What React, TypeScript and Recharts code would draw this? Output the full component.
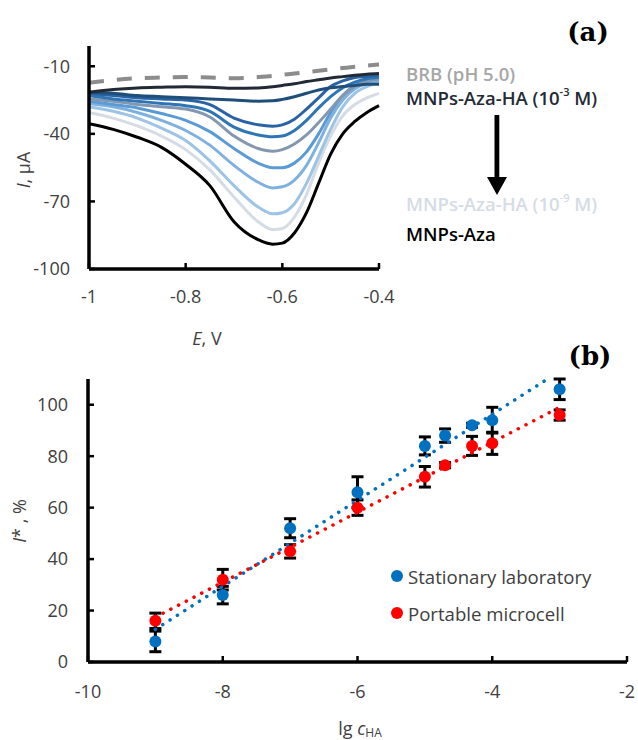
import React from "react";
import { ComposedChart, ErrorBar, Line, LineChart, Scatter, XAxis, YAxis } from "recharts";

// (a) voltammograms, E in V, I in µA
const potentials = [-1, -0.95, -0.9, -0.85, -0.8, -0.75, -0.7, -0.65, -0.62, -0.6, -0.575, -0.55, -0.525, -0.5, -0.475, -0.45, -0.425, -0.4];
const brb = [-17.3, -16.1, -15.3, -15, -14.8, -15, -15.3, -14.8, -14.3, -13.8, -13.2, -12.6, -12, -11.4, -10.8, -10.2, -9.7, -9.2];
const ha3 = [-21.5, -20.3, -19.6, -19.3, -19.1, -19.3, -19.8, -19.6, -19.1, -18.5, -17.8, -16.8, -16, -15.2, -14.6, -14, -13.5, -13.2];
const ha4 = [-21.5, -22, -23, -23.5, -24, -24.5, -25, -25.5, -25.3, -24.7, -23.5, -22, -20.5, -19.5, -19, -18.5, -18, -18];
const ha43 = [-22, -23, -24, -24.5, -25, -27, -33, -36, -36.6, -36, -33.5, -29, -24, -19, -16.5, -15, -14.5, -14];
const ha47 = [-23, -24.5, -25.5, -26.5, -27.5, -30, -37, -40.5, -41.3, -41, -38.5, -34, -28.5, -23.5, -19.5, -17, -15.5, -15];
const ha5 = [-24.5, -25.5, -27, -28, -29, -32.5, -41, -46.5, -47.7, -47, -44.5, -40.5, -35, -29, -23, -19, -16.5, -15.5];
const ha6 = [-25.5, -27, -28.5, -31, -34, -39, -46.5, -53, -55, -55, -53, -48, -40, -30.5, -23, -18.5, -16.5, -15.5];
const ha7 = [-26.5, -28, -30.5, -34, -38.5, -45, -54, -61.5, -64, -63.5, -60.5, -54, -44, -33, -25, -20, -17.5, -16.5];
const ha8 = [-28, -30, -33, -37.5, -43, -52, -63, -72.5, -75.5, -75, -71, -62, -50, -38, -28, -22, -19, -17];
const ha9 = [-30.5, -33, -36.5, -41, -47, -56, -68, -79, -82.5, -82, -77, -67, -53, -41, -32, -27, -24, -22];
const aza = [-35.5, -38, -41.5, -46, -53.5, -63, -79, -87, -89, -88.5, -84, -75, -62, -49, -40, -34.5, -30.5, -27.5];
const eTicks = [-1, -0.8, -0.6, -0.4];
const iTicks = [-100, -70, -40, -10];

// (b) calibration
const lgC = [-9, -8, -7, -6, -5, -4.7, -4.3, -4, -3];
const stationary = [8, 26, 52, 66, 84, 88, 92, 94, 106];
const stationaryErr = [4, 3.4, 3.7, 6, 3.5, 2.6, 0.8, 5, 4];
const portable = [16, 32, 43, 60, 72, 76.5, 84, 85, 96];
const portableErr = [3, 4, 2.6, 3, 4, 1, 3.7, 4.3, 2];
// trendline ends
const stationaryTrend = [{ x: -9, y: 12.7 }, { x: -3, y: 113 }];
const portableTrend = [{ x: -9, y: 17.4 }, { x: -3, y: 99 }];
const lgTicks = [-10, -8, -6, -4, -2];
const pctTicks = [0, 20, 40, 60, 80, 100];

const FONT = "'Open Sans', sans-serif";
const TXT = "#404040";

const curves = [
  { key: "brb", values: brb, color: "#8c8c8c", dash: "15 13", width: 4 },
  { key: "ha9", values: ha9, color: "#d6dce5" },
  { key: "ha8", values: ha8, color: "#9dc3e6" },
  { key: "ha7", values: ha7, color: "#7eb1e0" },
  { key: "ha6", values: ha6, color: "#5b9bd5" },
  { key: "ha5", values: ha5, color: "#8497b0" },
  { key: "ha47", values: ha47, color: "#2e75b6" },
  { key: "ha43", values: ha43, color: "#2a62a6" },
  { key: "ha4", values: ha4, color: "#1f4e79" },
  { key: "ha3", values: ha3, color: "#222a35" },
  { key: "aza", values: aza, color: "#000000" },
];

const tickStyle = { fill: TXT, fontSize: 18, fontFamily: FONT };
const axisLine = { stroke: "#000", strokeWidth: 3.5 };
const tickLine = { stroke: "#000", strokeWidth: 2.5 };

const dot = (color: string) => (p: any) => <circle cx={p.cx} cy={p.cy} r={6} fill={color} />;

export default function App() {
  const vData = potentials.map((E, i) => {
    const row: any = { E };
    curves.forEach((c) => (row[c.key] = c.values[i]));
    return row;
  });
  const lab = lgC.map((x, i) => ({ x, y: stationary[i], err: stationaryErr[i] }));
  const port = lgC.map((x, i) => ({ x, y: portable[i], err: portableErr[i] }));

  return (
    <div style={{ position: "absolute", left: 0, top: 0, width: 638, height: 740, background: "#fff" }}>
      <div style={{ position: "absolute", left: 0, top: 0 }}>
        <LineChart width={638} height={320} data={vData} margin={{ top: 46, right: 259, bottom: 21, left: 0 }}>
          <XAxis
            dataKey="E"
            type="number"
            domain={[-1, -0.4]}
            ticks={eTicks}
            height={30}
            tick={tickStyle}
            tickSize={-6}
            tickMargin={27}
            axisLine={axisLine}
            tickLine={tickLine}
          />
          <YAxis
            type="number"
            domain={[-100, -1]}
            ticks={iTicks}
            width={89}
            tick={tickStyle}
            tickSize={-6}
            tickMargin={25}
            axisLine={axisLine}
            tickLine={tickLine}
          />
          {curves.map((c) => (
            <Line
              key={c.key}
              dataKey={c.key}
              type="monotone"
              stroke={c.color}
              strokeWidth={c.width ?? 3}
              strokeDasharray={c.dash}
              dot={false}
              isAnimationActive={false}
            />
          ))}
        </LineChart>
      </div>

      <div style={{ position: "absolute", left: 0, top: 330 }}>
        <ComposedChart width={638} height={410} margin={{ top: 49, right: 11, bottom: 38, left: 0 }}>
          <XAxis
            dataKey="x"
            type="number"
            domain={[-10, -2]}
            ticks={lgTicks}
            allowDataOverflow
            height={40}
            tick={tickStyle}
            tickSize={-6}
            tickMargin={29}
            axisLine={axisLine}
            tickLine={tickLine}
          />
          <YAxis
            dataKey="y"
            type="number"
            domain={[0, 110]}
            ticks={pctTicks}
            allowDataOverflow
            width={88}
            tick={tickStyle}
            tickSize={-6}
            tickMargin={26}
            axisLine={axisLine}
            tickLine={tickLine}
          />
          <Scatter name="Stationary laboratory" data={lab} dataKey="y" shape={dot("#0070c0")} isAnimationActive={false}>
            <ErrorBar dataKey="err" direction="y" width={6} stroke="#000" strokeWidth={3} />
          </Scatter>
          <Scatter name="Portable microcell" data={port} dataKey="y" shape={dot("#ff0000")} isAnimationActive={false}>
            <ErrorBar dataKey="err" direction="y" width={6} stroke="#000" strokeWidth={3} />
          </Scatter>
          <Line data={stationaryTrend} dataKey="y" type="linear" stroke="#0070c0" strokeWidth={3.5} strokeDasharray="0.1 8.6" strokeLinecap="round" dot={false} legendType="none" isAnimationActive={false} />
          <Line data={portableTrend} dataKey="y" type="linear" stroke="#ff0000" strokeWidth={3.5} strokeDasharray="0.1 8.6" strokeLinecap="round" dot={false} legendType="none" isAnimationActive={false} />
        </ComposedChart>
      </div>

      <svg width={638} height={740} style={{ position: "absolute", left: 0, top: 0, pointerEvents: "none" }}>
        <g fontFamily={FONT} fontSize={18} fill={TXT}>
          <text transform="translate(23,170) rotate(-90)" textAnchor="middle" dominantBaseline="central">
            <tspan fontStyle="italic">I</tspan>, µA
          </text>
          <text x={207} y={338} textAnchor="middle" dominantBaseline="central">
            <tspan fontStyle="italic">E</tspan>, V
          </text>
          <text transform="translate(19,521) rotate(-90)" textAnchor="middle" dominantBaseline="central">
            <tspan fontStyle="italic">I</tspan>* , %
          </text>
          <text x={360} y={728} textAnchor="middle" dominantBaseline="central">
            lg <tspan fontStyle="italic">c</tspan>
            <tspan fontSize={12} dy={4}>HA</tspan>
          </text>
        </g>

        <g fontFamily="'DejaVu Serif', serif" fontWeight="bold" fontSize={26} fill="#000">
          <text x={588} y={32} textAnchor="middle" dominantBaseline="central">(a)</text>
          <text x={590} y={356} textAnchor="middle" dominantBaseline="central">(b)</text>
        </g>

        <g fontFamily={FONT} fontWeight={600} fontSize={18.5}>
          <text x={406} y={73} dominantBaseline="central" fill="#a6a6a6">BRB (pH 5.0)</text>
          <text x={406} y={97} dominantBaseline="central" fill="#222a35">
            MNPs-Aza-HA (10<tspan fontSize={11} dy={-6}>-3</tspan>
            <tspan dy={6}> M)</tspan>
          </text>
          <text x={406} y={203} dominantBaseline="central" fill="#d6dce5">
            MNPs-Aza-HA (10<tspan fontSize={11} dy={-6}>-9</tspan>
            <tspan dy={6}> M)</tspan>
          </text>
          <text x={406} y={233} dominantBaseline="central" fill="#000">MNPs-Aza</text>
        </g>
        <rect x={494.5} y={115} width={4.8} height={63} fill="#000" />
        <polygon points="487,177 507,177 497,195" fill="#000" />

        <g fontFamily={FONT} fontSize={18.6} fill={TXT}>
          <circle cx={397} cy={576} r={6} fill="#0070c0" />
          <text x={408} y={576} dominantBaseline="central">Stationary laboratory</text>
          <circle cx={397} cy={613} r={6} fill="#ff0000" />
          <text x={408} y={613} dominantBaseline="central">Portable microcell</text>
        </g>
      </svg>
    </div>
  );
}
